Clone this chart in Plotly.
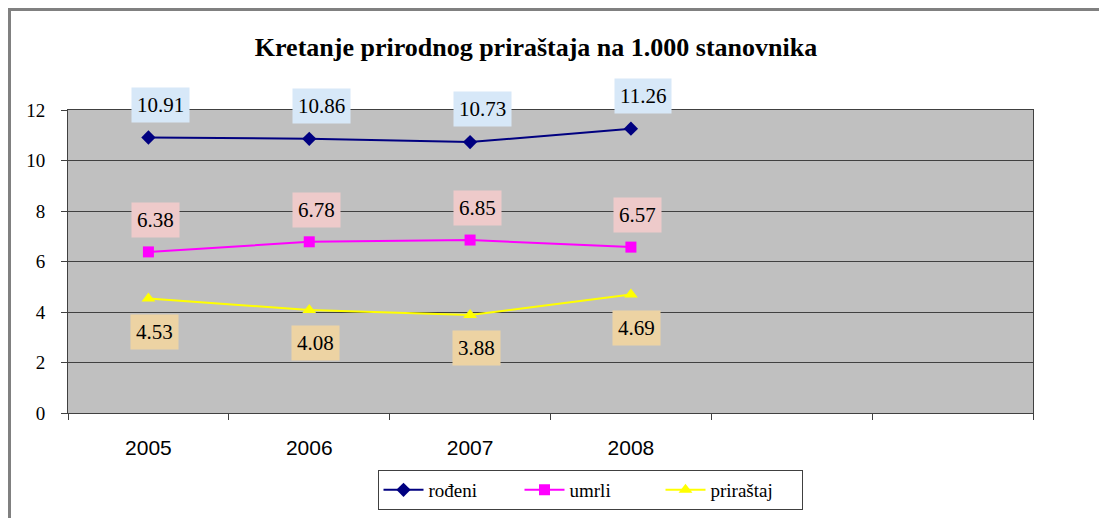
import plotly.graph_objects as go

years = ["2005", "2006", "2007", "2008"]
rodeni = [10.91, 10.86, 10.73, 11.26]
umrli = [6.38, 6.78, 6.85, 6.57]
prirastaj = [4.53, 4.08, 3.88, 4.69]
series_names = ["rođeni", "umrli", "priraštaj"]
title_text = "Kretanje prirodnog priraštaja na 1.000 stanovnika"

W, H = 1107, 518
OFF = 8  # page body margin


def px(x):
    return (x - OFF) / W


def py(y):
    return 1 - (y - OFF) / H


xpos = list(range(len(years)))
n_slots = 6

serif = "Liberation Serif"
sans = "Liberation Sans"

fig = go.Figure()
specs = [
    (rodeni, series_names[0], "#000080", "diamond", 11),
    (umrli, series_names[1], "#FF00FF", "square", 11),
    (prirastaj, series_names[2], "#FFFF00", "triangle-up", 12),
]
for vals, name, col, sym, ms in specs:
    fig.add_trace(go.Scatter(
        x=xpos, y=vals, name=name, mode="lines+markers",
        line=dict(color=col, width=2),
        marker=dict(symbol=sym, size=ms, color=col),
    ))

label_styles = [
    (rodeni, "#D7E8F8", 12, 33),
    (umrli, "#EECACA", 7, 32),
    (prirastaj, "#EDD3A3", 6, -33),
]
for vals, bg, xs, ys in label_styles:
    for xi, v in zip(xpos, vals):
        fig.add_annotation(
            x=xi, y=v, xref="x", yref="y", text=f"{v:.2f}", showarrow=False,
            xshift=xs, yshift=ys, bgcolor=bg, borderpad=5,
            font=dict(family=serif, size=21, color="black"),
        )

# outer chart frame
fig.add_shape(type="rect", xref="paper", yref="paper",
              x0=px(9.5), x1=1.05, y0=-0.1, y1=py(9.5),
              line=dict(color="#808080", width=3), fillcolor="rgba(0,0,0,0)")

fig.update_layout(
    width=W, height=H,
    margin=dict(l=0, r=0, t=0, b=0, autoexpand=False),
    paper_bgcolor="white",
    plot_bgcolor="#C0C0C0",
    title=dict(text=f"<b>{title_text}</b>", x=px(536), xanchor="center",
               y=py(47), yanchor="middle", automargin=False,
               font=dict(family=serif, size=26, color="black")),
    showlegend=True,
    legend=dict(orientation="h", x=px(590), xanchor="center",
                y=py(470), yanchor="top",
                bordercolor="#404040", borderwidth=1, bgcolor="white",
                font=dict(family=serif, size=19, color="black"),
                entrywidth=86, entrywidthmode="pixels",
                itemwidth=40),
    xaxis=dict(
        domain=[px(68), px(1033)],
        range=[-0.5, n_slots - 0.5],
        tickvals=xpos, ticktext=years, ticks="",
        tickfont=dict(family=sans, size=21, color="black"),
        showgrid=False, zeroline=False, automargin=False,
        showline=True, linecolor="#404040", linewidth=1, mirror=True,
        minor=dict(tickvals=[i - 0.5 for i in range(n_slots + 1)],
                   ticks="outside", ticklen=6, tickcolor="#404040", showgrid=False),
        ticklabelstandoff=16,
    ),
    yaxis=dict(
        domain=[py(413), py(110)],
        range=[0, 12], dtick=2, automargin=False,
        ticks="outside", ticklen=6, tickcolor="#404040",
        tickfont=dict(family=serif, size=19, color="black"),
        showgrid=True, gridcolor="#404040", gridwidth=1,
        zeroline=False,
        showline=True, linecolor="#404040", linewidth=1, mirror=True,
        ticklabelstandoff=12,
    ),
)

fig.write_html("out.html")
